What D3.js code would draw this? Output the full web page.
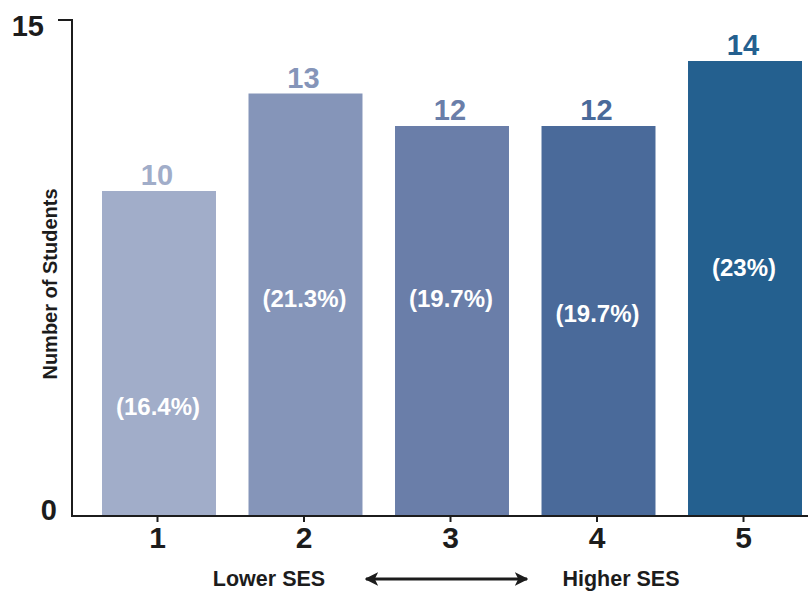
<!DOCTYPE html>
<html>
<head>
<meta charset="utf-8">
<script src="https://cdn.jsdelivr.net/npm/d3@7"></script>
<style>
  html, body { margin: 0; padding: 0; background: #ffffff; }
  svg { display: block; font-family: "Liberation Sans", Arial, Helvetica, sans-serif; }
</style>
</head>
<body>
<svg id="chart" width="808" height="592"></svg>
<script>
// ---- data ----
const categories = ["1", "2", "3", "4", "5"];
const students = [10, 13, 12, 12, 14];
const percentLabels = ["(16.4%)", "(21.3%)", "(19.7%)", "(19.7%)", "(23%)"];
const yTickValues = [0, 15];
const yTitle = "Number of Students";
const lowLabel = "Lower SES";
const highLabel = "Higher SES";

// ---- layout / style (not data) ----
const barColors = ["#a1adc9", "#8595b9", "#6a7ea9", "#4a6a9a", "#24608f"];
const pctLabelAt = [3.38, 6.7, 6.7, 6.25, 7.66]; // vertical anchor of percent labels, in axis units
const ink = "#1c1c1c";

const svg = d3.select("#chart");

const x = d3.scaleBand()
  .domain(categories)
  .range([72, 832])
  .paddingInner(0.222)
  .paddingOuter(0.2048);

const y = d3.scaleLinear()
  .domain([0, 15])
  .range([516, 28.5]);

// bars
svg.append("g").selectAll("rect")
  .data(categories)
  .join("rect")
  .attr("x", d => x(d))
  .attr("y", (d, i) => y(students[i]))
  .attr("width", x.bandwidth())
  .attr("height", (d, i) => y(0) - y(students[i]))
  .attr("fill", (d, i) => barColors[i]);

// value labels above bars
svg.append("g").selectAll("text")
  .data(categories)
  .join("text")
  .attr("x", d => x(d) + x.bandwidth() / 2 - 2)
  .attr("y", (d, i) => y(students[i]) - 6)
  .attr("text-anchor", "middle")
  .attr("font-size", 29)
  .attr("font-weight", "bold")
  .attr("fill", (d, i) => barColors[i])
  .text((d, i) => students[i]);

// percent labels inside bars
svg.append("g").selectAll("text")
  .data(categories)
  .join("text")
  .attr("x", d => x(d) + x.bandwidth() / 2 - 1)
  .attr("y", (d, i) => y(pctLabelAt[i]))
  .attr("dy", "0.36em")
  .attr("text-anchor", "middle")
  .attr("font-size", 24)
  .attr("font-weight", "bold")
  .attr("fill", "#ffffff")
  .text((d, i) => percentLabels[i]);

// x axis
const xAxis = d3.axisBottom(x).tickSize(6).tickSizeOuter(0).tickPadding(5);
const gx = svg.append("g").attr("transform", `translate(-1.5,${y(0)})`).call(xAxis);
gx.select(".domain").remove();
gx.selectAll(".tick line").attr("stroke", ink).attr("stroke-width", 2);
gx.selectAll(".tick text")
  .attr("fill", ink)
  .attr("font-size", 30)
  .attr("font-weight", "bold")
  .attr("font-family", "Liberation Sans, Arial, sans-serif");
svg.append("line")
  .attr("x1", 71).attr("x2", 808)
  .attr("y1", y(0)).attr("y2", y(0))
  .attr("stroke", ink).attr("stroke-width", 2);

// y axis line with top corner tick
const yTop = y(15) - 8.5;
svg.append("path")
  .attr("d", `M58,${yTop}H72V${y(0) + 1}`)
  .attr("fill", "none")
  .attr("stroke", ink)
  .attr("stroke-width", 2);

// y tick labels
svg.append("g").selectAll("text")
  .data(yTickValues)
  .join("text")
  .attr("x", d => d === 0 ? 57 : 44)
  .attr("y", d => d === 0 ? y(d) - 6 : y(d) - 3)
  .attr("dy", "0.36em")
  .attr("text-anchor", "end")
  .attr("font-size", 29)
  .attr("font-weight", "bold")
  .attr("fill", ink)
  .text(d => d);

// y title
svg.append("text")
  .attr("transform", `translate(57,${(180 + 388) / 2}) rotate(-90)`)
  .attr("text-anchor", "middle")
  .attr("font-size", 20)
  .attr("font-weight", "bold")
  .attr("fill", ink)
  .text(yTitle);

// SES labels and arrow
svg.append("text")
  .attr("x", 269).attr("y", 586)
  .attr("text-anchor", "middle")
  .attr("font-size", 21.5)
  .attr("font-weight", "bold")
  .attr("fill", ink)
  .text(lowLabel);
svg.append("text")
  .attr("x", 621).attr("y", 586)
  .attr("text-anchor", "middle")
  .attr("font-size", 21.5)
  .attr("font-weight", "bold")
  .attr("fill", ink)
  .text(highLabel);

const defs = svg.append("defs");
defs.append("marker")
  .attr("id", "ah")
  .attr("viewBox", "0 0 10 10")
  .attr("refX", 9).attr("refY", 5)
  .attr("markerWidth", 4.5).attr("markerHeight", 4.5)
  .attr("orient", "auto-start-reverse")
  .attr("markerUnits", "strokeWidth")
  .append("path")
  .attr("d", "M0,0L10,5L0,10L2.5,5Z")
  .attr("fill", ink);
svg.append("line")
  .attr("x1", 366).attr("x2", 527)
  .attr("y1", 579).attr("y2", 579)
  .attr("stroke", ink).attr("stroke-width", 3)
  .attr("marker-start", "url(#ah)")
  .attr("marker-end", "url(#ah)");
</script>
</body>
</html>
